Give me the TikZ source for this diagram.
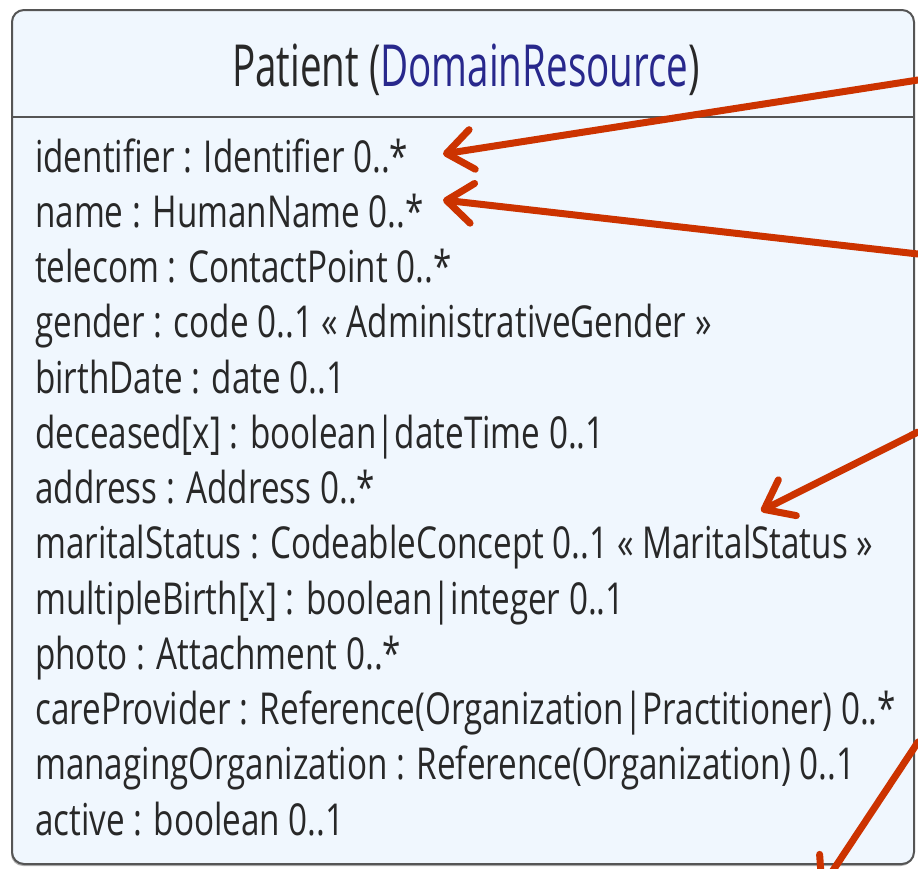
\documentclass[tikz,border=0pt]{standalone}
\usepackage{fontspec}
\setmainfont[FakeStretch=0.755]{Open Sans}
\newfontfamily\titlefont[FakeStretch=0.665]{Open Sans}
\usetikzlibrary{arrows.meta,shadows}
\definecolor{boxfill}{RGB}{240,247,254}
\definecolor{boxline}{RGB}{85,85,85}
\definecolor{txt}{RGB}{40,40,40}
\definecolor{navy}{RGB}{40,40,140}
\definecolor{arrowred}{RGB}{204,51,0}
\tikzset{
  attr/.style={anchor=base west, inner sep=0pt, font=\fontsize{44}{50}\selectfont, text=txt},
  redarrow/.style={draw=arrowred, line width=7pt, line cap=round,
    -{Straight Barb[length=26pt,width=40pt,line width=7pt,round]}},
}
\begin{document}
\begin{tikzpicture}[x=1pt,y=-1pt]
\useasboundingbox (0,0) rectangle (918,868);
\fill[white] (0,0) rectangle (918,868);
\draw[boxline, line width=2pt, fill=boxfill, rounded corners=12pt,
  drop shadow={shadow xshift=-1pt, shadow yshift=-2pt, opacity=0.6}]
  (12,10) rectangle (914,864);
\draw[boxline, line width=2pt] (13,117) -- (913,117);
\node[anchor=base, inner sep=0pt, text=txt, font=\titlefont\fontsize{58}{60}\selectfont] (title) at (466,86) {Patient ({\color{navy}DomainResource})};
\foreach \i/\t in {0/{identifier : Identifier 0..*},
  1/{name : HumanName 0..*},
  2/{telecom : ContactPoint 0..*},
  3/{gender : code 0..1 « AdministrativeGender »},
  4/{birthDate : date 0..1},
  5/{deceased[x] : boolean|dateTime 0..1},
  6/{address : Address 0..*},
  7/{maritalStatus : CodeableConcept 0..1 « MaritalStatus »},
  8/{multipleBirth[x] : boolean|integer 0..1},
  9/{photo : Attachment 0..*},
  10/{careProvider : Reference(Organization|Practitioner) 0..*},
  11/{managingOrganization : Reference(Organization) 0..1},
  12/{active : boolean 0..1}}
  \node[attr] (l\i) at (35,{172+55.25*\i}) {\t};
\coordinate (s1) at (918,80);
\coordinate (t1) at (443,154);
\coordinate (s2) at (918,254);
\coordinate (t2) at (443,200);
\coordinate (s3) at (918,432);
\coordinate (t3) at (761,511);
\coordinate (s4) at (918,742);
\coordinate (t4) at (820,890);
\begin{scope}
\clip (0,0) rectangle (918,868);
\draw[redarrow] (s1) -- (t1);
\draw[redarrow] (s2) -- (t2);
\draw[redarrow] (s3) -- (t3);
\draw[redarrow] (s4) -- (t4);
\end{scope}
\end{tikzpicture}
\end{document}
